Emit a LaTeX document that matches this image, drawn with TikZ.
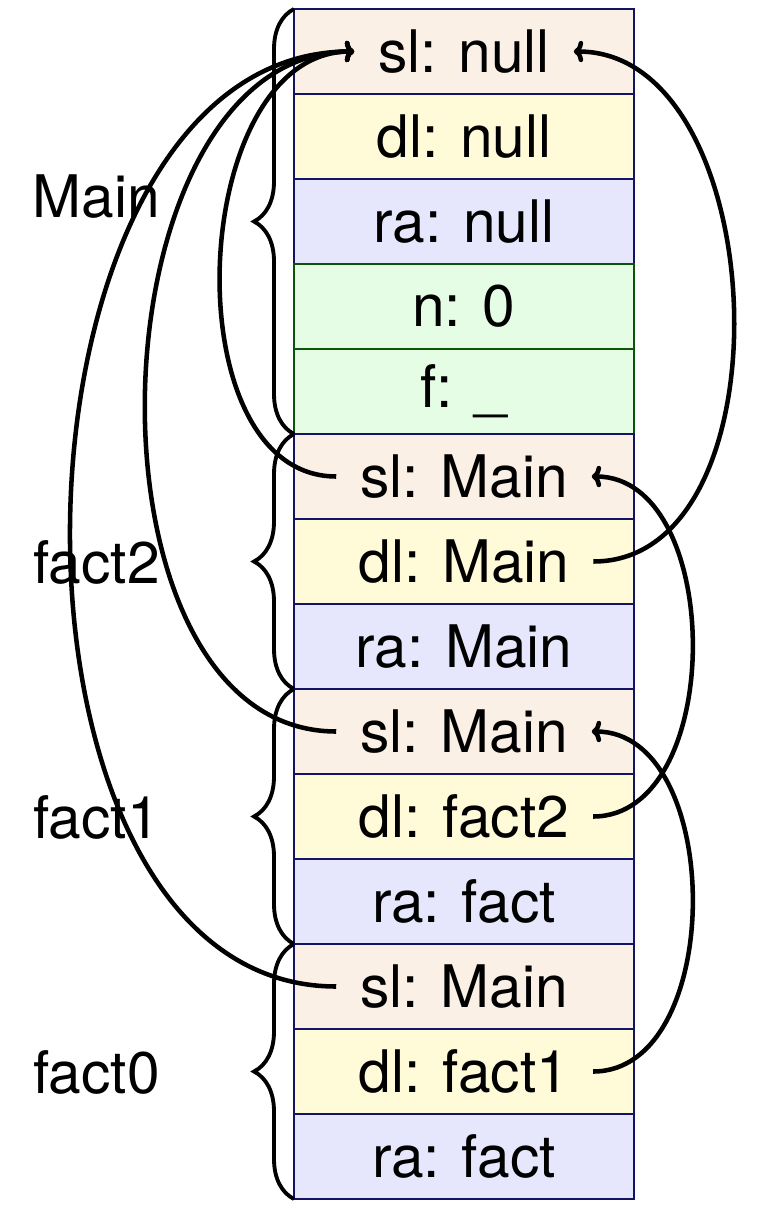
\documentclass[tikz,border=0pt]{standalone}
\usepackage{fontspec}
\setmainfont{TeX Gyre Heros}
\usetikzlibrary{decorations.pathreplacing,arrows.meta}
\definecolor{slfill}{RGB}{251,240,230}
\definecolor{dlfill}{RGB}{255,250,216}
\definecolor{rafill}{RGB}{230,230,252}
\definecolor{locfill}{RGB}{228,253,228}
\definecolor{frameborder}{RGB}{20,20,100}
\definecolor{locborder}{RGB}{10,85,10}
\tikzset{
  cellbox/.style={draw=frameborder, line width=1.6pt, minimum width=255pt, minimum height=63.75pt, inner sep=0pt, outer sep=0pt},
  slcell/.style={cellbox, fill=slfill},
  dlcell/.style={cellbox, fill=dlfill},
  racell/.style={cellbox, fill=rafill},
  loccell/.style={cellbox, fill=locfill, draw=locborder},
  celltext/.style={inner xsep=18pt, inner ysep=0pt, outer sep=0pt, font=\fontsize{44}{52}\selectfont},
  framelabel/.style={anchor=east, inner sep=0pt, font=\fontsize{44}{52}\selectfont},
  framebrace/.style={decorate, decoration={brace, amplitude=30pt}, line width=2.9pt},
  link/.style={line width=3.4pt, -{To[length=7pt,width=16pt]}}
}
\begin{document}
\begin{tikzpicture}[x=0.75pt,y=-0.75pt]
\useasboundingbox (0,0) rectangle (767,1230);
% cells
\foreach \i/\sty/\txt in {1/slcell/{sl: null},2/dlcell/{dl: null},3/racell/{ra: null},4/loccell/{n: 0},5/loccell/{f: \_},
  6/slcell/{sl: Main},7/dlcell/{dl: Main},8/racell/{ra: Main},
  9/slcell/{sl: Main},10/dlcell/{dl: fact2},11/racell/{ra: fact},
  12/slcell/{sl: Main},13/dlcell/{dl: fact1},14/racell/{ra: fact}}{
  \node[\sty] (c\i) at (464,{9+85*(\i-1)+42.5}) {};
  \node[celltext] (t\i) at (c\i.center) {\txt};
}
% braces
\draw[framebrace] (c5.south west) -- (c1.north west);
\draw[framebrace] (c8.south west) -- (c6.north west);
\draw[framebrace] (c11.south west) -- (c9.north west);
\draw[framebrace] (c14.south west) -- (c12.north west);
% labels
\node[framelabel] (lmain) at (160,197) {Main};
\node[framelabel] (lf2) at (160,562) {fact2};
\node[framelabel] (lf1) at (160,817) {fact1};
\node[framelabel] (lf0) at (160,1072) {fact0};
% static links
\draw[link] (t6.west) to[out=180,in=180] (t1.west);
\draw[link] (t9.west) to[out=180,in=180] (t1.west);
\draw[link] (t12.west) to[out=180,in=180] (t1.west);
% dynamic links
\draw[link] (t7.east) to[out=0,in=0] (t1.east);
\draw[link] (t10.east) to[out=0,in=0] (t6.east);
\draw[link] (t13.east) to[out=0,in=0] (t9.east);
\end{tikzpicture}
\end{document}
